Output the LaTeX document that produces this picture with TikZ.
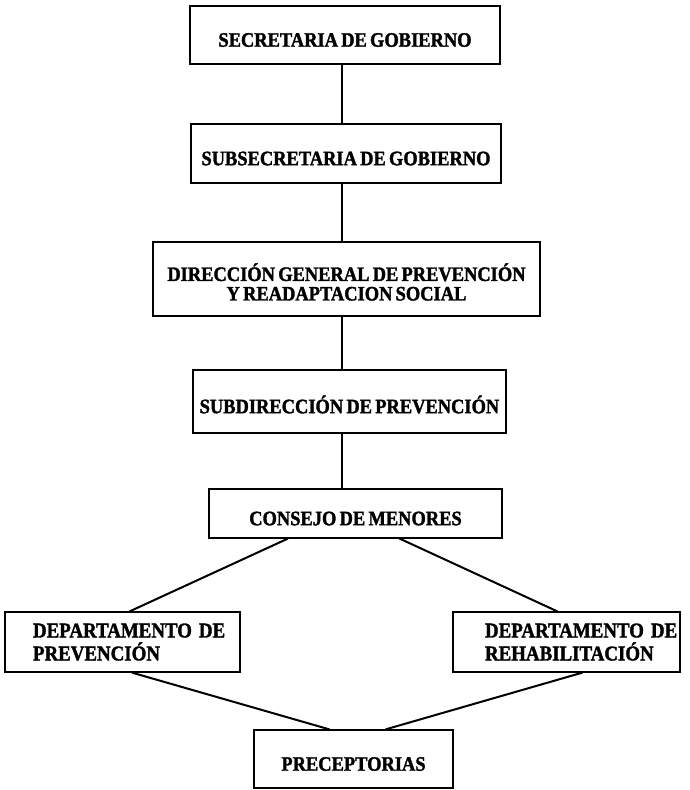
\documentclass[tikz,border=0pt]{standalone}
\usepackage{fontspec}
\setmainfont{Liberation Serif}[FakeStretch=0.9, FakeBold=1.6, WordSpace=0.7]
\usetikzlibrary{calc}

\begin{document}
\begin{tikzpicture}[x=1pt, y=-1pt,
    unit/.style={draw, line width=1.2pt, inner sep=0pt, align=center,
        font=\fontsize{20.5}{19.5}\selectfont\bfseries, text height=23.4pt, text depth=0pt},
    dept/.style={unit, align=left, minimum height=60pt, inner ysep=0pt,
        font=\fontsize{21}{23}\selectfont\bfseries, text height=13.8pt, text depth=23pt},
    link/.style={line width=1.1pt},
    branch/.style={line width=2pt}]
    \useasboundingbox (0,0) rectangle (689,790);

    % Chain of offices
    \node[unit, minimum width=310pt, minimum height=58pt] (sec) at (345,35) {SECRETARIA DE GOBIERNO};
    \node[unit, minimum width=310pt, minimum height=59pt] (subsec) at (346,153.5) {SUBSECRETARIA DE GOBIERNO};
    \node[unit, minimum width=387pt, text height=42.9pt, minimum height=74pt] (dirgen) at (346.5,279) {DIRECCIÓN GENERAL DE PREVENCIÓN\\ Y READAPTACION SOCIAL};
    \node[unit, minimum width=313pt, minimum height=63pt] (subdir) at (349.5,401.5) {SUBDIRECCIÓN DE PREVENCIÓN};
    \node[unit, minimum width=293pt, minimum height=49pt] (consejo) at (355.5,513.5) {CONSEJO DE MENORES};

    % Departments
    \node[dept, text width=179pt, inner xsep=28pt] (depprev) at (122.5,642) {DEPARTAMENTO~DE\\ PREVENCIÓN};
    \node[dept, text width=163pt, inner xsep=32pt] (deprehab) at (566.5,642) {DEPARTAMENTO~DE\\ REHABILITACIÓN};
    \node[unit, minimum width=199pt, minimum height=58pt] (precep) at (353.5,759) {PRECEPTORIAS};

    % Vertical links
    \coordinate (spine) at (342,0);
    \foreach \a/\b in {sec/subsec, subsec/dirgen, dirgen/subdir, subdir/consejo}
        \draw[link] (\a.south -| spine) -- (\b.north -| spine);

    % Branches
    \draw[branch] ($(consejo.south west)!0.27!(consejo.south east)$) -- ($(depprev.north west)!0.53!(depprev.north east)$);
    \draw[branch] ($(consejo.south west)!0.65!(consejo.south east)$) -- ($(deprehab.north west)!0.46!(deprehab.north east)$);
    \draw[branch] ($(depprev.south west)!0.54!(depprev.south east)$) -- ($(precep.north west)!0.38!(precep.north east)$);
    \draw[branch] ($(deprehab.south west)!0.57!(deprehab.south east)$) -- ($(precep.north west)!0.66!(precep.north east)$);
\end{tikzpicture}
\end{document}
